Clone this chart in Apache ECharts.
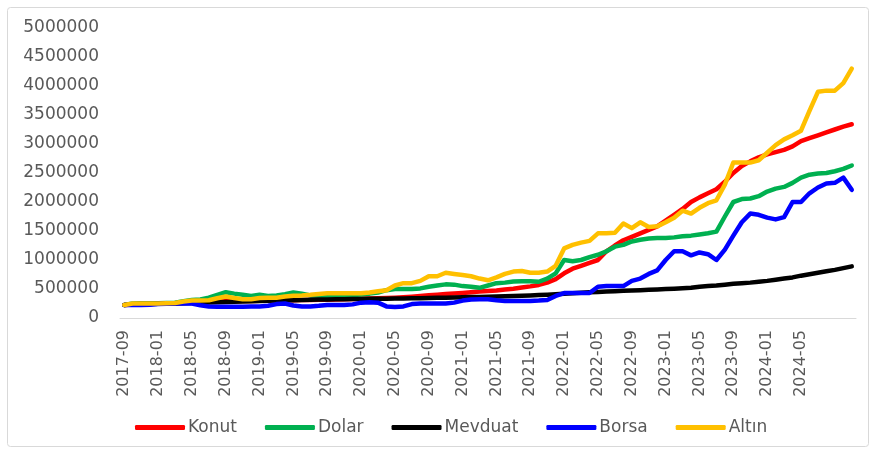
<!DOCTYPE html>
<html>
<head>
<meta charset="utf-8">
<script src="https://cdn.jsdelivr.net/npm/echarts@6/dist/echarts.min.js"></script>
<style>
  html, body { margin: 0; padding: 0; background: #fff; }
  #chart { width: 875px; height: 452px; }
</style>
</head>
<body>
<div id="chart"></div>
<script>
// aylar: 2017-09 .. 2024-11
var months = [
  '2017-09','2017-10','2017-11','2017-12',
  '2018-01','2018-02','2018-03','2018-04','2018-05','2018-06','2018-07','2018-08','2018-09','2018-10','2018-11','2018-12',
  '2019-01','2019-02','2019-03','2019-04','2019-05','2019-06','2019-07','2019-08','2019-09','2019-10','2019-11','2019-12',
  '2020-01','2020-02','2020-03','2020-04','2020-05','2020-06','2020-07','2020-08','2020-09','2020-10','2020-11','2020-12',
  '2021-01','2021-02','2021-03','2021-04','2021-05','2021-06','2021-07','2021-08','2021-09','2021-10','2021-11','2021-12',
  '2022-01','2022-02','2022-03','2022-04','2022-05','2022-06','2022-07','2022-08','2022-09','2022-10','2022-11','2022-12',
  '2023-01','2023-02','2023-03','2023-04','2023-05','2023-06','2023-07','2023-08','2023-09','2023-10','2023-11','2023-12',
  '2024-01','2024-02','2024-03','2024-04','2024-05','2024-06','2024-07','2024-08','2024-09','2024-10','2024-11'
];
// ekseni yazilan etiketler (her 4 ayda bir, son 2024-05)
var tickLabels = [
  '2017-09','2018-01','2018-05','2018-09','2019-01','2019-05','2019-09','2020-01','2020-05','2020-09','2021-01',
  '2021-05','2021-09','2022-01','2022-05','2022-09','2023-01','2023-05','2023-09','2024-01','2024-05'
];

var konut = [
  225000,232000,238000,243000,248000,252000,256000,262000,268000,273000,
  278000,283000,288000,290000,292000,295000,298000,300000,302000,305000,
  307000,309000,311000,313000,316000,320000,324000,328000,332000,336000,
  340000,345000,350000,358000,368000,380000,392000,402000,412000,422000,
  432000,445000,455000,465000,475000,490000,505000,525000,545000,570000,
  610000,670000,770000,850000,900000,950000,1000000,1150000,1250000,1340000,
  1400000,1460000,1520000,1580000,1680000,1780000,1880000,2000000,2080000,2150000,
  2220000,2350000,2500000,2620000,2700000,2770000,2820000,2860000,2900000,2960000,
  3050000,3100000,3150000,3200000,3250000,3300000,3340000
];

var dolar = [
  225000,250000,255000,255000,255000,258000,262000,290000,310000,320000,
  350000,400000,445000,420000,400000,380000,400000,380000,390000,410000,
  440000,420000,390000,385000,385000,385000,390000,395000,405000,420000,
  440000,480000,500000,500000,500000,510000,540000,560000,580000,575000,
  550000,540000,520000,560000,600000,610000,630000,635000,635000,625000,
  680000,770000,1000000,980000,1000000,1050000,1090000,1150000,1230000,1260000,
  1320000,1350000,1370000,1380000,1380000,1390000,1410000,1420000,1440000,1460000,
  1490000,1750000,2000000,2050000,2060000,2100000,2180000,2230000,2260000,2330000,
  2420000,2470000,2490000,2500000,2530000,2570000,2630000
];

var mevduat = [
  225000,235000,240000,243000,246000,249000,252000,256000,260000,264000,
  268000,272000,276000,280000,284000,288000,292000,296000,300000,304000,
  308000,312000,315000,318000,320000,322000,324000,326000,328000,330000,
  332000,334000,336000,338000,340000,342000,344000,347000,350000,353000,
  356000,360000,364000,368000,372000,376000,380000,385000,390000,395000,
  402000,410000,418000,426000,434000,442000,450000,456000,462000,468000,
  474000,480000,486000,492000,498000,505000,512000,520000,540000,550000,
  560000,575000,590000,600000,610000,625000,640000,660000,680000,700000,
  730000,755000,780000,805000,830000,860000,890000
];

var borsa = [
  225000,222000,225000,230000,240000,245000,250000,255000,250000,220000,
  200000,195000,195000,195000,195000,200000,200000,210000,240000,250000,
  215000,200000,200000,210000,225000,225000,225000,235000,265000,270000,
  265000,200000,190000,200000,240000,250000,250000,250000,250000,265000,
  300000,320000,325000,325000,305000,295000,295000,295000,295000,300000,
  310000,380000,430000,430000,430000,430000,540000,550000,550000,550000,
  640000,680000,760000,820000,1000000,1150000,1150000,1080000,1130000,1100000,
  1000000,1180000,1420000,1650000,1800000,1780000,1730000,1700000,1740000,2000000,
  2000000,2150000,2250000,2320000,2330000,2420000,2210000
];

var altin = [
  225000,250000,252000,252000,252000,255000,258000,285000,300000,300000,
  305000,340000,370000,345000,325000,325000,345000,350000,350000,370000,
  385000,390000,400000,415000,425000,425000,425000,425000,425000,440000,
  460000,480000,560000,600000,600000,640000,720000,720000,780000,760000,
  740000,720000,680000,650000,700000,760000,800000,810000,780000,780000,
  800000,900000,1200000,1260000,1300000,1330000,1460000,1460000,1470000,1630000,
  1550000,1650000,1570000,1580000,1650000,1730000,1850000,1800000,1900000,1980000,
  2030000,2300000,2680000,2680000,2680000,2720000,2850000,2980000,3080000,3150000,
  3230000,3570000,3900000,3920000,3920000,4050000,4300000
];

var seriesNames = ['Konut', 'Dolar', 'Mevduat', 'Borsa', 'Altın'];
var seriesData = [konut, dolar, mevduat, borsa, altin];
var seriesColors = ['#FF0000', '#00B050', '#000000', '#0000FF', '#FFC000'];

var FONT = 'DejaVu Sans';
var chart = echarts.init(document.getElementById('chart'));

var series = seriesNames.map(function (name, k) {
  return {
    name: name,
    type: 'line',
    data: seriesData[k],
    symbol: 'none',
    smooth: false,
    lineStyle: { color: seriesColors[k], width: 4.5, cap: 'round', join: 'round' },
    itemStyle: { color: seriesColors[k] },
    animation: false
  };
});

var option = {
  animation: false,
  backgroundColor: '#ffffff',
  grid: { left: 120, right: 19, top: 28, bottom: 134, containLabel: false },
  graphic: [{
    type: 'rect',
    shape: { x: 7.5, y: 7.5, width: 861, height: 439, r: 3 },
    style: { fill: 'none', stroke: '#d9d9d9', lineWidth: 1 },
    silent: true
  }],
  legend: {
    left: 130,
    top: 414,
    itemWidth: 50,
    itemHeight: 5,
    itemGap: 28,
    icon: 'roundRect',
    textStyle: { fontFamily: FONT, fontSize: 17, color: '#595959', padding: [0, 0, 0, -2] },
    data: seriesNames
  },
  xAxis: {
    type: 'category',
    data: months,
    boundaryGap: true,
    axisLine: { show: true, lineStyle: { color: '#d9d9d9', width: 1 } },
    axisTick: { show: false },
    splitLine: { show: false },
    axisLabel: {
      interval: function (idx, value) { return tickLabels.indexOf(value) >= 0; },
      rotate: 90,
      margin: 12,
      fontFamily: FONT,
      fontSize: 16,
      color: '#595959'
    }
  },
  yAxis: {
    type: 'value',
    min: 0,
    max: 5000000,
    interval: 500000,
    axisLine: { show: false },
    axisTick: { show: false },
    splitLine: { show: false },
    axisLabel: {
      margin: 21,
      fontFamily: FONT,
      fontSize: 17,
      color: '#595959',
      formatter: function (v) { return String(v); }
    }
  },
  series: series
};

chart.setOption(option);
</script>
</body>
</html>
